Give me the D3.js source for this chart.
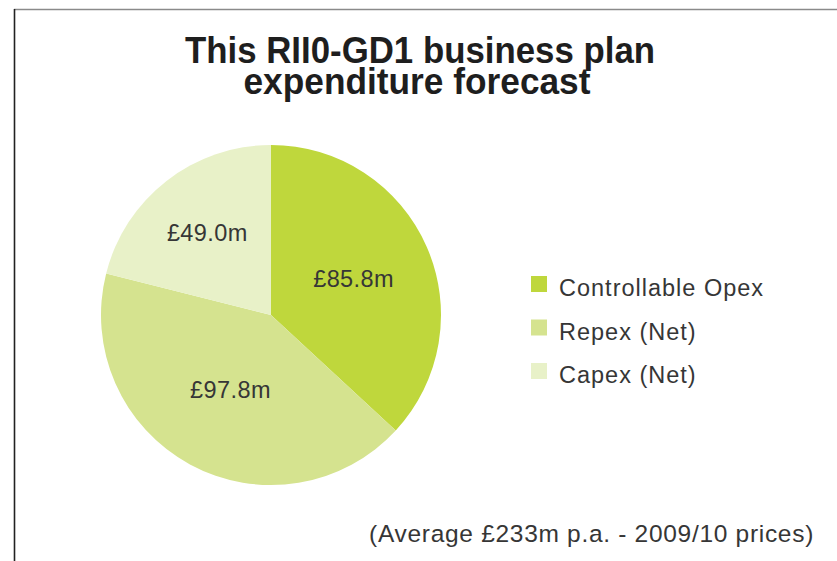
<!DOCTYPE html>
<html>
<head>
<meta charset="utf-8">
<script src="https://cdn.jsdelivr.net/npm/d3@7"></script>
<style>
  html, body { margin: 0; padding: 0; background: #fff; }
  svg { display: block; }
</style>
</head>
<body>
<svg id="chart" width="837" height="561"></svg>
<script>
// Expenditure split, £m per year (2009/10 prices)
const categories = ["Controllable Opex", "Repex (Net)", "Capex (Net)"];
const values = [85.8, 97.8, 49.0];
const valueLabels = ["£85.8m", "£97.8m", "£49.0m"];
const colours = ["#bfd73c", "#d5e38f", "#e8f1c8"];
const titleLines = ["This RII0-GD1 business plan", "expenditure forecast"];
const footnote = "(Average £233m p.a. - 2009/10 prices)";

const svg = d3.select("#chart");
const W = 837, H = 561;

// Frame: grey rule along the top, dark rule down the left
svg.append("line")
  .attr("x1", 14).attr("x2", W).attr("y1", 9.5).attr("y2", 9.5)
  .attr("stroke", "#8a8a8a").attr("stroke-width", 1.5);
svg.append("line")
  .attr("x1", 14.5).attr("x2", 14.5).attr("y1", 9).attr("y2", H)
  .attr("stroke", "#222").attr("stroke-width", 1.6);

// Title: two centred lines in a narrow bold face, set to a fixed measure
const titleWidths = [470, 347];
const titleCentres = [420, 417];
const title = svg.append("text")
  .attr("text-anchor", "middle")
  .attr("font-family", "'Liberation Sans Narrow', 'Arial Narrow', sans-serif")
  .attr("font-weight", "bold")
  .attr("font-size", 36)
  .attr("fill", "#1e1e1e");
title.selectAll("tspan")
  .data(titleLines)
  .join("tspan")
  .attr("x", (d, i) => titleCentres[i])
  .attr("y", (d, i) => 63 + i * 31)
  .attr("textLength", (d, i) => titleWidths[i])
  .attr("lengthAdjust", "spacingAndGlyphs")
  .text(d => d);

// Pie
const cx = 271, cy = 315, r = 170;
const color = d3.scaleOrdinal().domain(categories).range(colours);
const pie = d3.pie().sort(null).value(d => d.value);
const rows = categories.map((c, i) => ({ name: c, value: values[i], label: valueLabels[i] }));
const arcs = pie(rows);
const arc = d3.arc().innerRadius(0).outerRadius(r);

// Distance of each value label from the centre, as a share of the radius
const labelReach = { "Controllable Opex": 0.53, "Repex (Net)": 0.5, "Capex (Net)": 0.61 };

const g = svg.append("g").attr("transform", `translate(${cx},${cy})`);
g.selectAll("path")
  .data(arcs)
  .join("path")
  .attr("d", arc)
  .attr("fill", d => color(d.data.name));

const bodyFont = "'Liberation Sans', Arial, Helvetica, sans-serif";
g.selectAll("text.value")
  .data(arcs)
  .join("text")
  .attr("class", "value")
  .attr("transform", d => {
    const rr = r * labelReach[d.data.name];
    const [x, y] = d3.arc().innerRadius(rr).outerRadius(rr).centroid(d);
    return `translate(${x},${y})`;
  })
  .attr("text-anchor", "middle")
  .attr("dy", "0.35em")
  .attr("font-family", bodyFont)
  .attr("font-size", 23.5)
  .attr("letter-spacing", 0.4)
  .attr("fill", "#363636")
  .text(d => d.data.label);

// Legend
const legend = svg.append("g").attr("transform", "translate(531,276)");
const item = legend.selectAll("g")
  .data(categories)
  .join("g")
  .attr("transform", (d, i) => `translate(0,${i * 43.5})`);
item.append("rect")
  .attr("width", 16).attr("height", 16)
  .attr("fill", d => color(d));
item.append("text")
  .attr("x", 28).attr("y", 20)
  .attr("font-family", bodyFont)
  .attr("font-size", 23.5)
  .attr("letter-spacing", 1.0)
  .attr("fill", "#363636")
  .text(d => d);

// Footnote
svg.append("text")
  .attr("x", 814).attr("y", 542)
  .attr("text-anchor", "end")
  .attr("font-family", bodyFont)
  .attr("font-size", 24.5)
  .attr("letter-spacing", 0.7)
  .attr("fill", "#363636")
  .text(footnote);
</script>
</body>
</html>
